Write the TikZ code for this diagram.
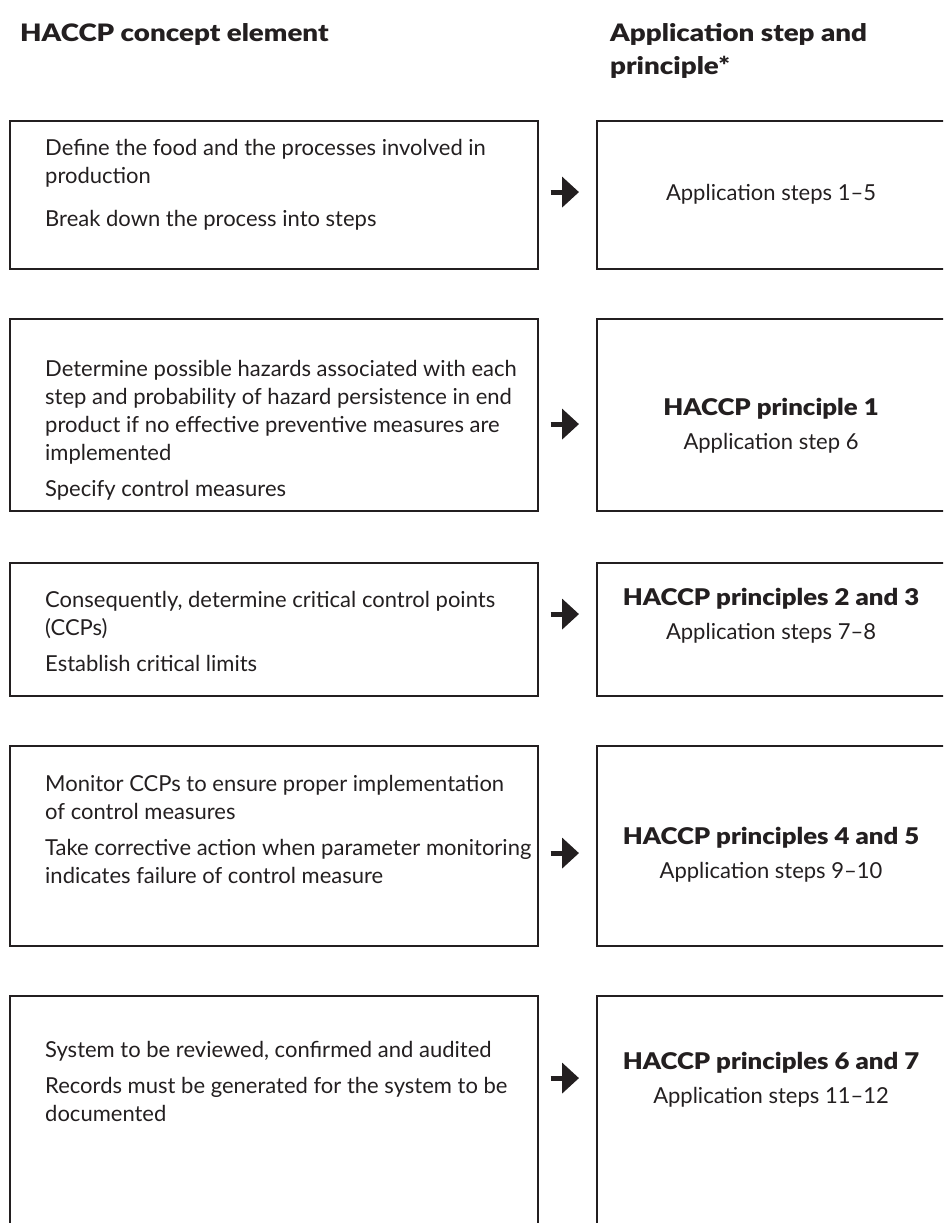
\documentclass[tikz,border=0pt]{standalone}
\usepackage{fontspec}
\setmainfont{Lato}
\newfontfamily\headfont[FakeStretch=1.155]{Lato Black}
\newfontfamily\principlefont[FakeStretch=1.12]{Lato Black}
\usetikzlibrary{arrows.meta,calc}
\definecolor{ink}{RGB}{35,31,32}
% fixed first-line height so text nodes can be placed by their first baseline
\newcommand{\firstline}{\rule{0pt}{20pt}}
% bold principle line inside a step box
\newcommand{\stepshead}[1]{{\fontsize{23}{28}\principlefont #1}}
\begin{document}
\begin{tikzpicture}[x=1pt,y=-1pt,
  every node/.style={text=ink, inner sep=0pt},
  framebox/.style={draw=ink, line width=1.5pt, anchor=north west},
  leftbox/.style={framebox, minimum width=528pt},
  rightbox/.style={framebox, minimum width=349pt},
  bodytext/.style={anchor=north west, align=left,
    font=\fontsize{22}{28}\selectfont},
  stepstext/.style={anchor=north, align=center,
    font=\fontsize{22}{28}\selectfont},
  headtext/.style={anchor=north west, align=left,
    font=\fontsize{24}{33}\headfont},
  flowarrow/.style={ink, line width=5pt,
    -{Triangle[length=17pt,width=30pt]}}]
\useasboundingbox (0,0) rectangle (943,1223);
\clip (0,0) rectangle (943,1223);

% column headings
\node[headtext] (hleft) at (20,21) {\firstline HACCP concept element};
\node[headtext] (hright) at (610,21) {\firstline Application step and\\principle*};

% left column: concept elements
\node[leftbox, minimum height=148pt] (l1) at (9,120) {};
\node[leftbox, minimum height=192pt] (l2) at (9,318) {};
\node[leftbox, minimum height=133pt] (l3) at (9,562) {};
\node[leftbox, minimum height=200pt] (l4) at (9,745) {};
\node[leftbox, minimum height=240pt] (l5) at (9,995) {};

\node[bodytext] (t1) at (45,135)
  {\firstline Define the food and the processes involved in\\production\\[15pt]Break down the process into steps};
\node[bodytext] (t2) at (45,356)
  {\firstline Determine possible hazards associated with each\\step and probability of hazard persistence in end\\product if no effective preventive measures are\\implemented\\[8pt]Specify control measures};
\node[bodytext] (t3) at (45,587)
  {\firstline Consequently, determine critical control points\\(CCPs)\\[8pt]Establish critical limits};
\node[bodytext] (t4) at (45,771)
  {\firstline Monitor CCPs to ensure proper implementation\\of control measures\\[8pt]Take corrective action when parameter monitoring\\indicates failure of control measure};
\node[bodytext] (t5) at (45,1037)
  {\firstline System to be reviewed, confirmed and audited\\[8pt]Records must be generated for the system to be\\documented};

% right column: application steps and principles
\node[rightbox, minimum height=148pt] (r1) at (596,120) {};
\node[rightbox, minimum height=192pt] (r2) at (596,318) {};
\node[rightbox, minimum height=133pt] (r3) at (596,562) {};
\node[rightbox, minimum height=200pt] (r4) at (596,745) {};
\node[rightbox, minimum height=240pt] (r5) at (596,995) {};

\node[stepstext] (s1) at (771,180) {\firstline Application steps 1--5};
\node[stepstext] (s2) at (771,395)
  {\firstline\stepshead{HACCP principle 1}\\[6pt]Application step 6};
\node[stepstext] (s3) at (771,585)
  {\firstline\stepshead{HACCP principles 2 and 3}\\[6pt]Application steps 7--8};
\node[stepstext] (s4) at (771,824)
  {\firstline\stepshead{HACCP principles 4 and 5}\\[6pt]Application steps 9--10};
\node[stepstext] (s5) at (771,1049)
  {\firstline\stepshead{HACCP principles 6 and 7}\\[6pt]Application steps 11--12};

% arrows between the columns, level with the step texts
\foreach \i in {1,...,5}
  \draw[flowarrow] ($(l\i.east |- s\i.center)+(12pt,0)$)
    -- ($(r\i.west |- s\i.center)+(-17pt,0)$);
\end{tikzpicture}
\end{document}
